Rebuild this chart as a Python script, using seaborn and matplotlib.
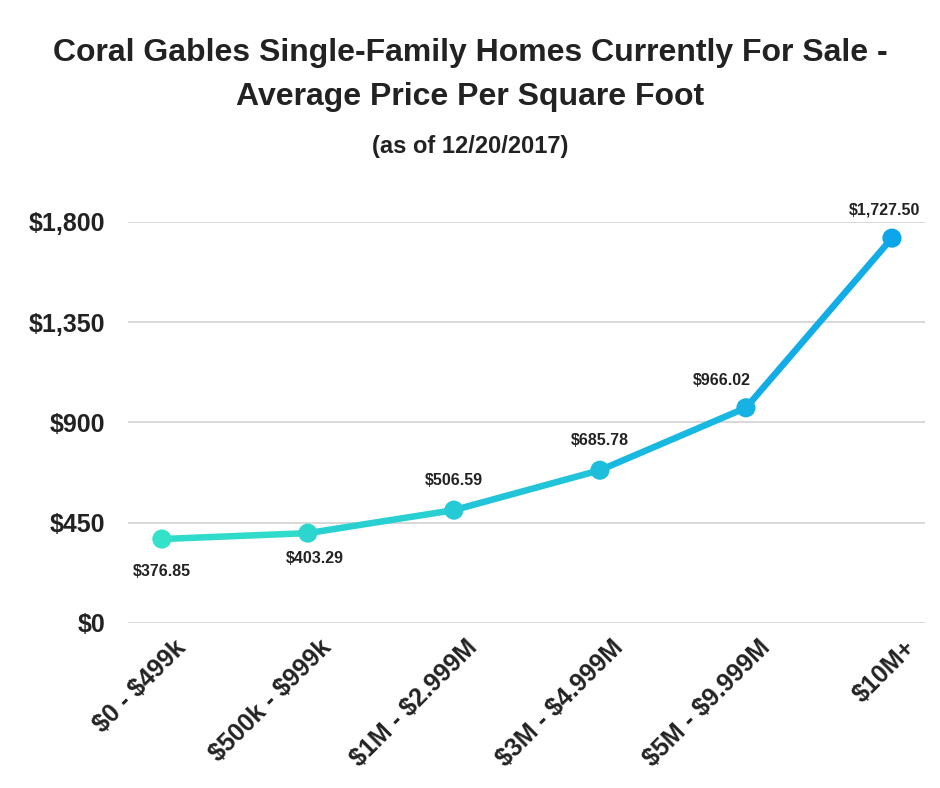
import numpy as np
import pandas as pd
import seaborn as sns
import matplotlib.pyplot as plt
import matplotlib.transforms as mtransforms
from matplotlib.colors import to_rgb

categories = ['$0 - $499k', '$500k - $999k', '$1M - $2.999M',
              '$3M - $4.999M', '$5M - $9.999M', '$10M+']
prices = [376.85, 403.29, 506.59, 685.78, 966.02, 1727.50]
price_labels = ['$376.85', '$403.29', '$506.59', '$685.78', '$966.02', '$1,727.50']
y_ticks = [0, 450, 900, 1350, 1800]
y_tick_labels = ['$0', '$450', '$900', '$1,350', '$1,800']

df = pd.DataFrame({'range': categories, 'price': prices, 'pos': range(len(categories))})

sns.set_style('white')
plt.rcParams['font.family'] = ['Liberation Sans', 'DejaVu Sans']
plt.rcParams['text.parse_math'] = False

# turquoise -> blue gradient along the line
c0 = np.array(to_rgb('#33e2c8'))
c1 = np.array(to_rgb('#0ea6ea'))
n = len(categories)
point_colors = [tuple(c0 + (c1 - c0) * i / (n - 1)) for i in range(n)]

fig = plt.figure(figsize=(9.4, 7.88), dpi=100)
ax = fig.add_axes([0.136, 0.2094, 0.848, 0.5089])

for i in range(n - 1):
    seg = df.iloc[i:i + 2]
    col = tuple((np.array(point_colors[i]) + np.array(point_colors[i + 1])) / 2)
    sns.lineplot(data=seg, x='pos', y='price', color=col, linewidth=4.7,
                 ax=ax, zorder=3, solid_capstyle='round')

sns.scatterplot(data=df, x='pos', y='price', hue='range', palette=point_colors,
                s=190, edgecolor='none', legend=False, ax=ax, zorder=4)

# value labels
offsets = [(0, -32), (7, -25), (0, 30), (0, 30), (-24, 27), (-7, 28)]
for i, (x, y) in enumerate(zip(df['pos'], df['price'])):
    ax.annotate(price_labels[i], (x, y), xytext=offsets[i], textcoords='offset pixels',
                ha='center', va='center', fontsize=11.5, fontweight='bold',
                color='#222222', annotation_clip=False)

ax.set_xlim(-0.233, 5.226)
ax.set_ylim(0, 1800)
ax.tick_params(axis='y', length=0, pad=16)
ax.tick_params(axis='x', length=0, pad=10)
ax.set_yticks(y_ticks)
ax.set_yticklabels(y_tick_labels, fontsize=18, fontweight='bold', color='#222222')
ax.set_xticks(range(n))
ax.set_xticklabels(categories, fontsize=18, fontweight='bold', color='#222222',
                   rotation=45, ha='right', va='center', rotation_mode='anchor')
# nudge rotated labels right/down like the original
shift = mtransforms.ScaledTranslation(20 / 100, -7 / 100, fig.dpi_scale_trans)
for lbl in ax.get_xticklabels():
    lbl.set_transform(lbl.get_transform() + shift)
ax.grid(axis='y', color='#d6d6d6', linewidth=1.3)
ax.grid(axis='x', visible=False)
for sp in ax.spines.values():
    sp.set_visible(False)
ax.set_xlabel('')
ax.set_ylabel('')

fig.text(0.5, 1 - 53 / 788, 'Coral Gables Single-Family Homes Currently For Sale -',
         ha='center', va='center', fontsize=23, fontweight='bold', color='#222222')
fig.text(0.5, 1 - 97 / 788, 'Average Price Per Square Foot',
         ha='center', va='center', fontsize=23, fontweight='bold', color='#222222')
fig.text(0.5, 1 - 146 / 788, '(as of 12/20/2017)',
         ha='center', va='center', fontsize=17, fontweight='bold', color='#222222')

fig.savefig('out.png', dpi=100)
